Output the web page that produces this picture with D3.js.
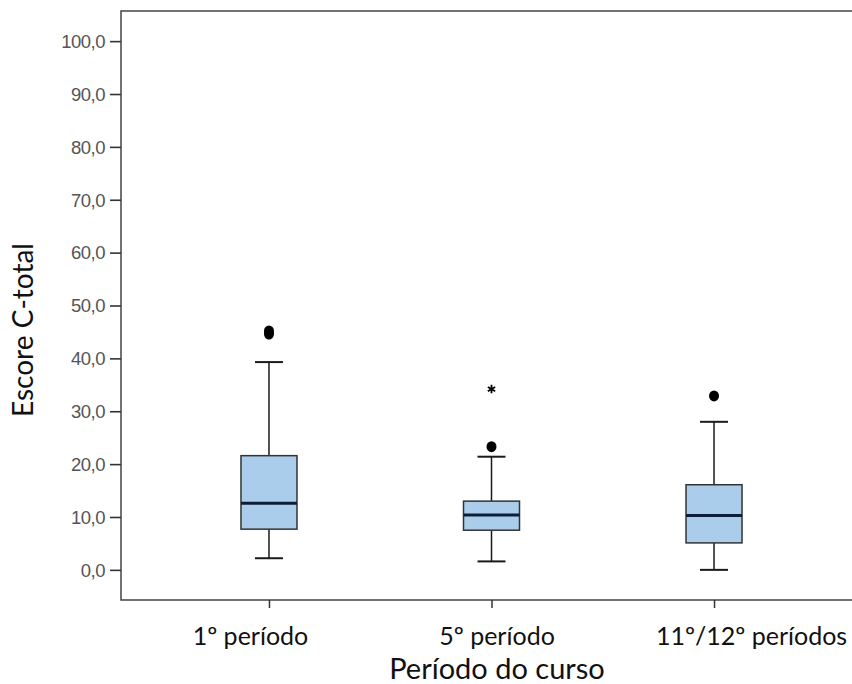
<!DOCTYPE html>
<html><head><meta charset="utf-8">
<script src="https://cdn.jsdelivr.net/npm/d3@7"></script>
<style>body{margin:0;background:#fff}svg{display:block}</style>
</head><body>
<svg id="c" width="852" height="684"></svg>
<script>
const categories = ["1º período", "5º período", "11º/12º períodos"];
const q1 = [7.7, 7.5, 5.1];
const medians = [12.6, 10.4, 10.3];
const q3 = [21.6, 13.0, 16.1];
const whiskerLow = [2.2, 1.6, 0.0];
const whiskerHigh = [39.3, 21.4, 28.0];
const outliers = [[44.6, 45.2], [23.3], [32.9]];
const extremes = [[], [34.2], []];
const yTicks = [0, 10, 20, 30, 40, 50, 60, 70, 80, 90, 100];

(function () {
const svg = d3.select("#c");
const pL = 121, pT = 11, pB = 600, pR = 862;
const y = d3.scaleLinear().domain([-5.7, 105.7]).range([pB, pT]);
const x = d3.scalePoint().domain(categories).range([pL, pR]).padding(0.665);
const boxW = 56, capW = 28;
const labelShift = [-19, 5, 37];

// frame
svg.append("path").attr("d", `M${pR},${pT}H${pL}V${pB}H${pR}`)
  .attr("fill", "none").attr("stroke", "#444").attr("stroke-width", 1.5);

// y axis
const ya = svg.append("g").attr("transform", `translate(${pL},0)`)
  .call(d3.axisLeft(y).tickValues(yTicks).tickSize(11).tickFormat(d => d3.format(".1f")(d).replace(".", ",")));
ya.select(".domain").remove();
ya.selectAll(".tick line").attr("stroke", "#333").attr("stroke-width", 1.6);
ya.selectAll(".tick text").attr("font-family", "Liberation Sans, Arial, sans-serif").attr("font-size", 18.5)
  .attr("letter-spacing", -0.5).attr("fill", "#555").attr("x", -16).attr("dy", "0.34em");

// x axis
const xa = svg.append("g").attr("transform", `translate(0,${pB})`)
  .call(d3.axisBottom(x).tickSize(8).tickPadding(14));
xa.select(".domain").remove();
xa.selectAll(".tick line").attr("stroke", "#333").attr("stroke-width", 1.5);
xa.selectAll(".tick text").attr("font-family", "Lato, sans-serif").attr("font-size", 25).attr("fill", "#111")
  .attr("y", 45).attr("dy", 0).attr("x", (d, i) => labelShift[i]);

// axis titles
svg.append("text").attr("x", 497).attr("y", 679).attr("text-anchor", "middle")
  .attr("font-family", "Lato, sans-serif").attr("font-size", 29).attr("fill", "#111").text("Período do curso");
svg.append("text").attr("transform", "translate(33,330) rotate(-90)").attr("text-anchor", "middle")
  .attr("font-family", "Lato, sans-serif").attr("font-size", 28).attr("fill", "#111").text("Escore C-total");

// boxes
const g = svg.append("g");
categories.forEach((c, i) => {
  const cx = x(c);
  const stroke = "#1a1a1a";
  g.append("line").attr("x1", cx).attr("x2", cx).attr("y1", y(q3[i])).attr("y2", y(whiskerHigh[i])).attr("stroke", stroke).attr("stroke-width", 1.5);
  g.append("line").attr("x1", cx).attr("x2", cx).attr("y1", y(q1[i])).attr("y2", y(whiskerLow[i])).attr("stroke", stroke).attr("stroke-width", 1.5);
  g.append("line").attr("x1", cx - capW/2).attr("x2", cx + capW/2).attr("y1", y(whiskerHigh[i])).attr("y2", y(whiskerHigh[i])).attr("stroke", stroke).attr("stroke-width", 2);
  g.append("line").attr("x1", cx - capW/2).attr("x2", cx + capW/2).attr("y1", y(whiskerLow[i])).attr("y2", y(whiskerLow[i])).attr("stroke", stroke).attr("stroke-width", 2);
  g.append("rect").attr("x", cx - boxW/2).attr("y", y(q3[i])).attr("width", boxW).attr("height", y(q1[i]) - y(q3[i]))
    .attr("fill", "#aacdec").attr("stroke", "#333").attr("stroke-width", 1.5);
  g.append("line").attr("x1", cx - boxW/2).attr("x2", cx + boxW/2).attr("y1", y(medians[i])).attr("y2", y(medians[i])).attr("stroke", "#0d1f38").attr("stroke-width", 3);
  outliers[i].forEach(v => {
    g.append("ellipse").attr("cx", cx).attr("cy", y(v)).attr("rx", 5).attr("ry", 5.5).attr("fill", "#000");
  });
  extremes[i].forEach(v => {
    g.append("path").attr("d", d3.symbol(d3.symbolAsterisk, 50)()).attr("transform", `translate(${cx},${y(v)})`).attr("stroke", "#000").attr("stroke-width", 1.8).attr("fill", "none");
  });
});
})();
</script>
</body></html>
